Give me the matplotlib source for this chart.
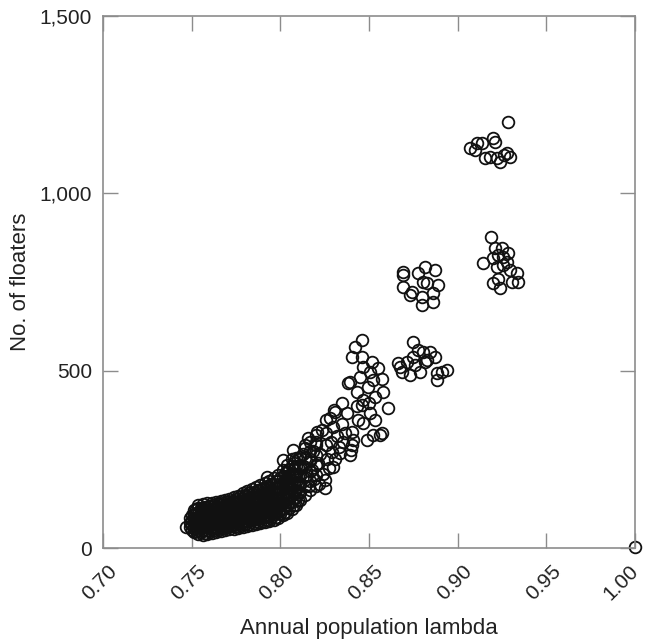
import matplotlib
matplotlib.use("Agg")
import matplotlib.pyplot as plt
from matplotlib.transforms import ScaledTranslation

plt.rcParams['font.family'] = ['Liberation Sans', 'DejaVu Sans']

# dense core of the cloud, read column by column: (lambda, [floaters...])
core_cols = [
    (0.7468, [59]),
    (0.7500, [52, 66, 80, 94]),
    (0.7525, [48, 60, 73, 86, 99, 110]),
    (0.7550, [44, 56, 69, 81, 93, 104, 114]),
    (0.7575, [42, 58, 70, 82, 95, 106, 117]),
    (0.7600, [49, 61, 73, 85, 97, 108, 119]),
    (0.7625, [51, 63, 75, 87, 99, 110, 121]),
    (0.7650, [54, 66, 78, 90, 101, 112, 123]),
    (0.7675, [56, 68, 80, 92, 104, 115, 126]),
    (0.7700, [59, 71, 83, 95, 106, 118, 129]),
    (0.7725, [61, 73, 85, 97, 109, 121, 134]),
    (0.7750, [63, 75, 88, 100, 113, 126, 139]),
    (0.7775, [65, 78, 91, 104, 117, 130, 144]),
    (0.7800, [67, 80, 93, 107, 121, 135, 149]),
    (0.7825, [69, 82, 96, 110, 124, 139, 154]),
    (0.7850, [71, 85, 99, 113, 128, 143, 159]),
    (0.7875, [74, 88, 102, 117, 132, 148, 164]),
    (0.7900, [77, 91, 106, 121, 137, 153, 169]),
    (0.7925, [80, 95, 110, 126, 142, 159, 175, 201]),
    (0.7950, [84, 99, 115, 131, 148, 165, 181]),
    (0.7975, [88, 104, 120, 137, 154, 171, 188]),
    (0.8000, [95, 111, 128, 145, 162, 180, 198]),
    (0.8017, [248]),
    (0.8025, [103, 120, 138, 156, 174, 193, 211]),
    (0.8050, [112, 130, 149, 168, 187, 206, 224]),
    (0.8073, [276]),
    (0.8075, [122, 142, 162, 182, 202, 222, 240]),
    (0.8100, [136, 158, 180, 204, 228, 250]),
]

# second pass over the core, between the columns above
core_cols_b = [
    (0.7488, [58, 72, 86]),
    (0.7513, [45, 57, 70, 83, 96, 108]),
    (0.7538, [40, 52, 64, 76, 88, 100, 112, 122]),
    (0.7563, [38, 50, 62, 75, 87, 99, 111, 124]),
    (0.7588, [40, 52, 64, 76, 88, 100, 112, 126]),
    (0.7613, [43, 55, 67, 79, 91, 103, 115, 128]),
    (0.7638, [45, 57, 69, 81, 93, 105, 117, 130]),
    (0.7663, [48, 60, 72, 84, 96, 108, 120, 132]),
    (0.7688, [50, 62, 74, 86, 98, 110, 122, 135]),
    (0.7713, [53, 65, 77, 89, 101, 113, 125, 138]),
    (0.7738, [55, 67, 79, 91, 104, 117, 130, 143]),
    (0.7763, [57, 70, 82, 95, 108, 121, 134, 148]),
    (0.7788, [60, 73, 86, 99, 113, 127, 141, 154]),
    (0.7813, [62, 75, 89, 103, 117, 131, 146, 160]),
    (0.7838, [64, 78, 92, 106, 121, 136, 151, 166]),
    (0.7863, [67, 81, 95, 110, 125, 140, 156, 172]),
    (0.7888, [70, 84, 99, 114, 129, 145, 161, 178]),
    (0.7913, [73, 88, 103, 118, 134, 150, 167, 184]),
    (0.7938, [76, 91, 107, 123, 139, 156, 173, 190]),
    (0.7963, [80, 96, 112, 128, 145, 162, 180, 197]),
    (0.7988, [86, 102, 119, 136, 153, 171, 189, 206]),
    (0.8013, [92, 109, 127, 145, 163, 182, 201, 220]),
    (0.8038, [100, 118, 137, 156, 175, 195, 215, 235]),
    (0.8063, [110, 130, 150, 170, 190, 210, 231, 252]),
    (0.8088, [122, 143, 165, 187, 209, 232, 255]),
    (0.8113, [135, 158, 182, 206, 231, 258]),
    (0.8140, [150, 175, 200, 228, 255, 282]),
    (0.8170, [165, 190, 218, 246, 274, 300]),
    (0.8200, [175, 205, 235, 262, 290, 318]),
]

# scattered tail between the core and the island groups
tail_x = [0.8125, 0.8130, 0.8140, 0.8150, 0.8158, 0.8160, 0.8170, 0.8180,
          0.8185, 0.8190, 0.8200, 0.8205, 0.8210, 0.8220, 0.8225, 0.8233,
          0.8240, 0.8252, 0.8252, 0.8255, 0.8260, 0.8260, 0.8265, 0.8275,
          0.8280, 0.8285, 0.8290, 0.8299, 0.8299, 0.8300, 0.8308, 0.8310,
          0.8320, 0.8330, 0.8337, 0.8346, 0.8350, 0.8355, 0.8365, 0.8375,
          0.8383, 0.8393, 0.8393, 0.8400, 0.8402, 0.8402, 0.8402, 0.8411,
          0.8421, 0.8430, 0.8440, 0.8449, 0.8459, 0.8459, 0.8459, 0.8468,
          0.8468, 0.8468, 0.8487, 0.8496, 0.8506, 0.8506, 0.8515, 0.8524,
          0.8524, 0.8534, 0.8534, 0.8553, 0.8562, 0.8572, 0.8572, 0.8581,
          0.8609, 0.8430, 0.8500]
tail_y = [265, 232, 290, 205, 309, 175, 250, 220,
          275, 195, 300, 328, 240, 180, 265, 333,
          210, 168, 192, 290, 361, 323, 250, 225,
          366, 300, 270, 342, 229, 389, 384, 250,
          315, 285, 267, 408, 350, 300, 325, 380,
          464, 262, 469, 276, 328, 290, 539, 305,
          568, 440, 360, 483, 403, 586, 539, 352,
          511, 417, 305, 455, 380, 497, 525, 319,
          474, 361, 427, 507, 319, 323, 478, 441,
          394, 400, 410]

# group near lambda 0.87-0.89, lower
g1_x = [0.8750, 0.8778, 0.8806, 0.8844, 0.8872, 0.8750, 0.8712, 0.8675,
        0.8684, 0.8731, 0.8788, 0.8760, 0.8816, 0.8882, 0.8910, 0.8938,
        0.8882, 0.8666, 0.8825]
g1_y = [582, 558, 553, 553, 539, 539, 525, 511,
        497, 488, 497, 516, 525, 493, 497, 502,
        474, 521, 530]

# group near lambda 0.87-0.89, upper
g2_x = [0.8693, 0.8693, 0.8816, 0.8872, 0.8778, 0.8806, 0.8891, 0.8693,
        0.8740, 0.8731, 0.8797, 0.8863, 0.8863, 0.8797, 0.8825]
g2_y = [779, 770, 793, 784, 775, 751, 742, 737,
        723, 713, 709, 718, 694, 685, 746]

# group near lambda 0.92, lower
g3_x = [0.9190, 0.9210, 0.9250, 0.9145, 0.9200, 0.9230, 0.9258, 0.9286,
        0.9220, 0.9258, 0.9295, 0.9333, 0.9342, 0.9305, 0.9200, 0.9239,
        0.9230, 0.9277]
g3_y = [878, 845, 845, 803, 817, 826, 821, 831,
        793, 798, 784, 775, 751, 751, 746, 732,
        760, 807]

# group near lambda 0.92, upper
g4_x = [0.9286, 0.9070, 0.9107, 0.9135, 0.9200, 0.9210, 0.9098, 0.9154,
        0.9182, 0.9220, 0.9239, 0.9260, 0.9295, 0.9277]
g4_y = [1202, 1127, 1143, 1141, 1155, 1146, 1122, 1099,
        1103, 1099, 1089, 1108, 1102, 1113]

# lone run at lambda = 1
lone_x = [1.0]
lone_y = [3]

xs = []
ys = []
for cx, cys in core_cols + core_cols_b:
    for cy in cys:
        xs.append(cx)
        ys.append(cy)
xs += tail_x + g1_x + g2_x + g3_x + g4_x + lone_x
ys += tail_y + g1_y + g2_y + g3_y + g4_y + lone_y

fig = plt.figure(figsize=(6.47, 6.44), dpi=100)
ax = fig.add_axes([0.1592, 0.149, 0.8223, 0.826])

ax.plot(xs, ys, linestyle='none', marker='o', markersize=8.4,
        markerfacecolor='none', markeredgecolor='#111111', markeredgewidth=1.3,
        clip_on=False)

ax.set_xlim(0.70, 1.00)
ax.set_ylim(0, 1500)
ax.set_xticks([0.70, 0.75, 0.80, 0.85, 0.90, 0.95, 1.00])
ax.set_xticklabels(['0.70', '0.75', '0.80', '0.85', '0.90', '0.95', '1.00'])
ax.set_yticks([0, 500, 1000, 1500])
ax.set_yticklabels(['0', '500', '1,000', '1,500'])

for s in ax.spines.values():
    s.set_color('#8c8c8c')
    s.set_linewidth(1.2)

ax.tick_params(direction='in', length=11, width=1.0, color='#8c8c8c',
               top=True, right=True, labelsize=15, labelcolor='#222222')
ax.tick_params(axis='y', pad=8)
ax.tick_params(axis='x', pad=6)
xlabs = ax.get_xticklabels()
for i, lab in enumerate(xlabs):
    dx = 0.045 if i < len(xlabs) - 1 else -0.06   # keep "1.00" inside the figure
    lab.set_rotation(45)
    lab.set_ha('right')
    lab.set_va('top')
    lab.set_rotation_mode('anchor')
    lab.set_transform(lab.get_transform()
                      + ScaledTranslation(dx, -0.05, fig.dpi_scale_trans))

ax.set_xlabel('Annual population lambda', fontsize=16, color='#222222', labelpad=10)
ax.set_ylabel('No. of floaters', fontsize=16, color='#222222', labelpad=6)

fig.savefig('out.png', dpi=100)
